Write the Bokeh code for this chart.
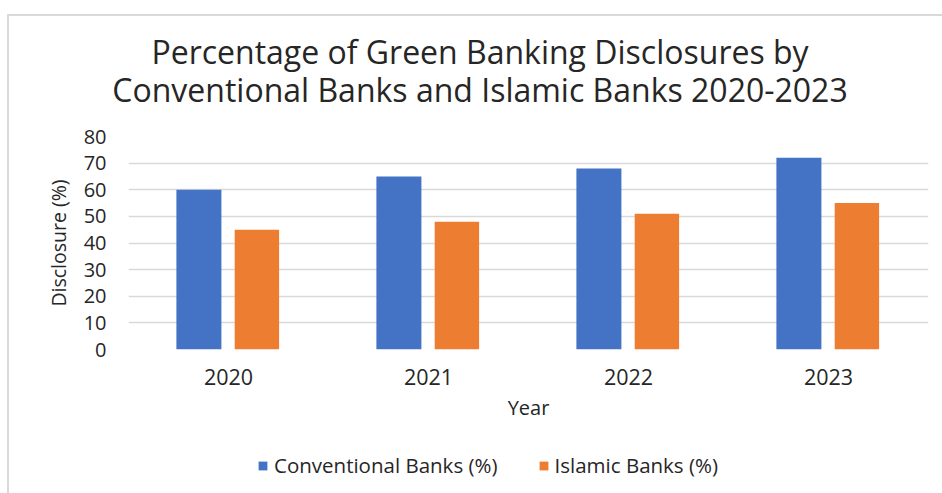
from bokeh.plotting import figure
from bokeh.layouts import column
from bokeh.models import (Range1d, FactorRange, ColumnDataSource, Legend, LegendItem,
                          Div, SingleIntervalTicker)
from bokeh.transform import dodge
from bokeh.embed import file_html
from bokeh.resources import INLINE

years = ["2020", "2021", "2022", "2023"]
conventional = [60, 65, 68, 72]
islamic = [45, 48, 51, 55]
series_names = ["Conventional Banks (%)", "Islamic Banks (%)"]
title_lines = ["Percentage of Green Banking Disclosures by",
               "Conventional Banks and Islamic Banks 2020-2023"]

FONT = "Open Sans"
TXT = "#262626"
BLUE = "#4472C4"
ORANGE = "#ED7D31"
W = 933

src = ColumnDataSource(dict(year=years, conv=conventional, isl=islamic))

# ---- title strip ----
title_html = ("<div style=\"font-family:'Open Sans';font-size:32px;color:%s;"
              "line-height:38px;text-align:center;padding-top:17px;padding-left:9px;"
              "width:%dpx;box-sizing:border-box;white-space:nowrap;\">%s</div>"
              % (TXT, W, "<br>".join(title_lines)))
tdiv = Div(text=title_html, width=W, height=108, margin=0)

# ---- main chart ----
p = figure(x_range=FactorRange(*years), y_range=Range1d(0, 80),
           width=W, height=312, frame_width=800, frame_height=213,
           output_backend="svg", toolbar_location=None,
           min_border_left=119, min_border_right=14, min_border_top=12,
           min_border_bottom=87)
p.outline_line_color = None
p.background_fill_color = "white"
p.border_fill_color = "white"

p.vbar(x=dodge("year", -0.148, range=p.x_range), top="conv", width=0.225,
       source=src, fill_color=BLUE, line_color=None)
p.vbar(x=dodge("year", 0.142, range=p.x_range), top="isl", width=0.222,
       source=src, fill_color=ORANGE, line_color=None)

p.yaxis.ticker = SingleIntervalTicker(interval=10)
p.ygrid.grid_line_color = "#d9d9d9"
p.ygrid.grid_line_width = 1.6
p.xgrid.grid_line_color = None

for ax in (p.xaxis[0], p.yaxis[0]):
    ax.axis_line_color = None
    ax.major_tick_line_color = None
    ax.minor_tick_line_color = None
    ax.major_tick_out = 0
    ax.major_tick_in = 0
    ax.major_label_text_font = FONT
    ax.major_label_text_color = TXT
    ax.axis_label_text_font = FONT
    ax.axis_label_text_color = TXT
    ax.axis_label_text_font_style = "normal"

p.yaxis.major_label_text_font_size = "20px"
p.yaxis.major_label_standoff = 18
p.yaxis.axis_label = "Disclosure (%)"
p.yaxis.axis_label_text_font_size = "19.5px"
p.yaxis.axis_label_standoff = 9

p.xaxis.major_label_text_font_size = "21.5px"
p.xaxis.major_label_standoff = 19
p.xaxis.axis_label = "Year"
p.xaxis.axis_label_text_font_size = "20px"
p.xaxis.axis_label_standoff = 6

# ---- legend strip ----
lf = figure(width=W, height=57, frame_width=W, frame_height=57,
            x_range=FactorRange(*years), y_range=Range1d(0, 1),
            x_axis_type=None, y_axis_type=None, min_border=0,
            output_backend="svg", toolbar_location=None)
lf.outline_line_color = None
lf.grid.grid_line_color = None
lf.background_fill_color = "white"
lf.border_fill_color = "white"
# zero-size proxies of the two series (only their legend glyphs show)
g1 = lf.vbar(x="year", top="conv", bottom="conv", width=0, source=src,
             fill_color=BLUE, line_color=None)
g2 = lf.vbar(x="year", top="isl", bottom="isl", width=0, source=src,
             fill_color=ORANGE, line_color=None)
legend = Legend(items=[LegendItem(label=series_names[0], renderers=[g1]),
                       LegendItem(label=series_names[1], renderers=[g2])],
                orientation="horizontal", location=(248, 14))
legend.border_line_color = None
legend.background_fill_alpha = 0
legend.padding = 0
legend.margin = 0
legend.spacing = 40
legend.glyph_width = 11
legend.glyph_height = 11
legend.label_standoff = 6
legend.label_text_font = FONT
legend.label_text_font_size = "20.5px"
legend.label_text_color = TXT
lf.add_layout(legend)

layout = column(tdiv, p, lf, spacing=0)
layout.styles = {"border-left": "2px solid #d9d9d9", "border-top": "2px solid #d9d9d9",
                 "margin-left": "7px", "margin-top": "14px"}

open("out.html", "w").write(file_html(layout, INLINE))
